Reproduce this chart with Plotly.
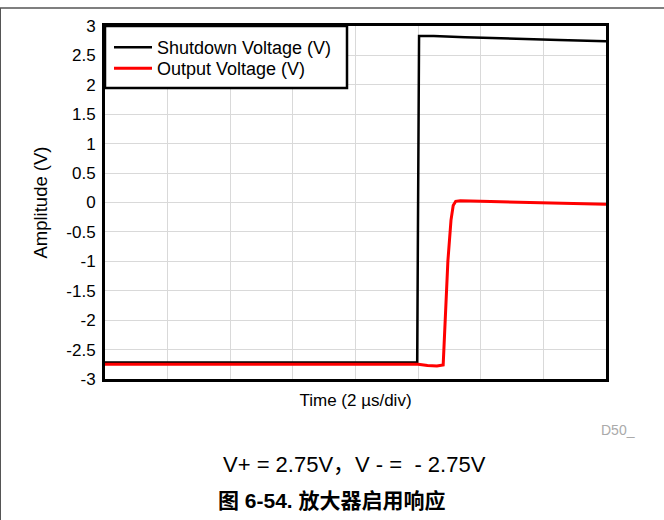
import plotly.graph_objects as go

# time in microseconds (2 us/div, 8 divisions)
shutdown_t = [0, 4, 9.97, 10.03, 10.5, 11.5, 13, 14.5, 16]
shutdown_v = [-2.72, -2.72, -2.72, 2.83, 2.83, 2.81, 2.78, 2.76, 2.74]

output_t = [0, 4, 10.0, 10.3, 10.6, 10.8, 10.86, 10.95, 11.05, 11.12, 11.2, 11.35, 12, 13.5, 16]
output_v = [-2.75, -2.75, -2.75, -2.77, -2.78, -2.76, -2.0, -1.0, -0.3, -0.05, 0.02, 0.03, 0.02, 0.0, -0.03]

y_ticks = [3, 2.5, 2, 1.5, 1, 0.5, 0, -0.5, -1, -1.5, -2, -2.5, -3]
y_labels = ["3", "2.5", "2", "1.5", "1", "0.5", "0", "-0.5", "-1", "-1.5", "-2", "-2.5", "-3"]

FONT = "Liberation Sans, Arial, sans-serif"
CJK = "Liberation Sans, Noto Sans CJK SC, sans-serif"

W, H = 664, 520
L, R, T, B = 105, 606, 26, 379


# page pixel -> paper coords
def px(x):
    return (x - L) / (R - L)


def py(y):
    return (B - y) / (B - T)


fig = go.Figure()
fig.add_trace(go.Scatter(x=shutdown_t, y=shutdown_v, mode="lines", name="Shutdown Voltage (V)",
                         line=dict(color="black", width=2.5), legend="legend"))
fig.add_trace(go.Scatter(x=output_t, y=output_v, mode="lines", name="Output Voltage (V)",
                         line=dict(color="#ff0000", width=3), legend="legend2"))

fig.update_xaxes(range=[0, 16], dtick=2, tick0=0, showgrid=True, gridcolor="#d9d9d9", gridwidth=1,
                 showticklabels=False, showline=True, linecolor="black", linewidth=3, mirror=True,
                 zeroline=False, ticks="",
                 title=dict(text="Time (2 µs/div)", font=dict(size=17, color="black"), standoff=14))
fig.update_yaxes(range=[-3, 3], tickvals=y_ticks, ticktext=y_labels, showgrid=True, gridcolor="#d9d9d9",
                 gridwidth=1, showline=True, linecolor="black", linewidth=3, mirror=True, zeroline=False,
                 ticks="outside", ticklen=3, tickcolor="rgba(0,0,0,0)",
                 tickfont=dict(size=17, color="black"),
                 title=dict(text="Amplitude (V)", font=dict(size=18.5, color="black"), standoff=14))

# legend frame (white box with black border, top-left of plot)
fig.add_shape(type="rect", xref="paper", yref="paper", x0=0, x1=px(347), y0=py(88), y1=1,
              fillcolor="white", line=dict(color="black", width=2.5), layer="above")
# page frame lines
fig.add_shape(type="line", xref="paper", yref="paper", x0=px(0), x1=px(664), y0=py(8), y1=py(8),
              line=dict(color="#555555", width=1.5))
fig.add_shape(type="line", xref="paper", yref="paper", x0=px(0.5), x1=px(0.5), y0=py(8), y1=py(520),
              line=dict(color="#555555", width=1))

fig.add_annotation(text="D50_", xref="paper", yref="paper", x=px(637), y=py(430), xanchor="right",
                   yanchor="middle", showarrow=False, font=dict(family=FONT, size=14, color="#aaaaaa"))
fig.add_annotation(text="V+ = 2.75V，V\u00a0-\u00a0=\u00a0\u00a0-\u00a02.75V", xref="paper", yref="paper",
                   x=px(354), y=py(464), xanchor="center", yanchor="middle", showarrow=False,
                   font=dict(family=CJK, size=22, color="black"))
fig.add_annotation(text="<b>图 6-54. 放大器启用响应</b>", xref="paper", yref="paper", x=px(332), y=py(500),
                   xanchor="center", yanchor="middle", showarrow=False,
                   font=dict(family=CJK, size=21, color="black"))

legend_style = dict(xanchor="left", yanchor="top", bgcolor="rgba(0,0,0,0)", borderwidth=0,
                    font=dict(size=18), itemwidth=38)

fig.update_layout(
    width=W, height=H,
    margin=dict(l=L, r=W - R, t=T, b=H - B),
    paper_bgcolor="white", plot_bgcolor="white",
    font=dict(family=FONT, size=17, color="black"),
    showlegend=True,
    legend=dict(x=px(109), y=py(29), **legend_style),
    legend2=dict(x=px(109), y=py(50), **legend_style),
)

fig.write_html("out.html", config={"displayModeBar": False},
               post_script="document.body.style.margin='0';")
